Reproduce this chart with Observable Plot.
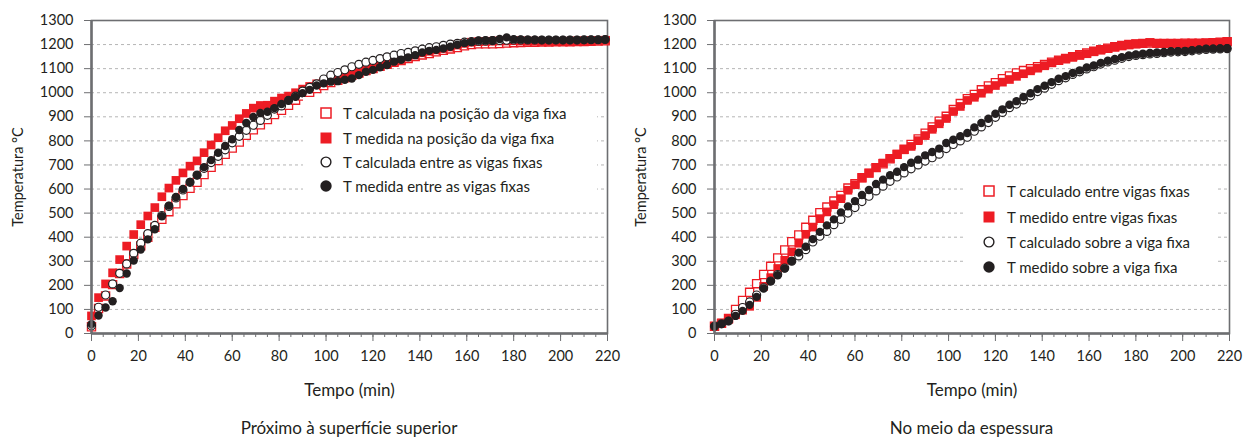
<!DOCTYPE html>
<html>
<head>
<meta charset="utf-8">
<script src="https://cdn.jsdelivr.net/npm/d3@7"></script>
<script src="https://cdn.jsdelivr.net/npm/@observablehq/plot@0.6"></script>
<style>
  body { margin: 0; background: #fff; font-family: Lato, "Open Sans", sans-serif; color: #231f20; }
  #wrap { display: flex; width: 1243px; }
  .panel { position: relative; }
  .caption { font-size: 17px; line-height: 20px; text-align: center; margin-top: 13px; color: #231f20; }
  .legend { position: absolute; background: #fff; }
  .legend .row { position: absolute; left: 0; height: 20px; display: flex; align-items: center; font-size: 15px; white-space: nowrap; }
  .legend svg { display: block; }
</style>
</head>
<body>
<div id="wrap"></div>
<script>
// ---- data ----
const time = [0,3,6,9,12,15,18,21,24,27,30,33,36,39,42,45,48,51,54,57,60,63,66,69,72,75,78,81,84,87,90,93,96,99,102,105,108,111,114,117,120,123,126,129,132,135,138,141,144,147,150,153,156,159,162,165,168,171,174,177,180,183,186,189,192,195,198,201,204,207,210,213,216,219];

// Panel 1: Próximo à superfície superior
const supCalcVigaFixa = [28,104,156,203,249,289,328,364,400,441,474,506,539,573,603,628,660,690,718,744,770,795,823,846,867,889,909,927,948,969,986,1002,1017,
  1030,1042,1052,1062,1072,1082,1092,1101,1110,1118,1126,1134,1142,1150,1157,1163,1170,1176,1182,1188,1195,1200,1203,1203,1203,1204,1206,1208,
  1209,1210,1210,1211,1211,1212,1212,1212,1213,1213,1214,1215,1216];
const supMedVigaFixa = [73,149,206,252,307,363,411,452,488,523,568,604,636,667,695,717,751,783,813,842,864,892,914,936,947,948,965,978,986,1000,1015,1026,1037,
  1045,1053,1060,1066,1073,1082,1092,1100,1110,1119,1130,1138,1148,1157,1166,1172,1178,1184,1190,1198,1205,1210,
  1212,1213,1214,1215,1215,1216,1215,1214,1214,1213,1213,1213,1213,1214,1214,1215,1216,1217,1218];
const supCalcEntre = [32,109,160,206,250,289,333,375,415,449,490,528,563,596,628,658,686,710,736,763,792,819,844,865,885,906,932,945,968,986,1007,1022,1037,
  1057,1073,1084,1095,1108,1118,1127,1134,1142,1149,1156,1163,1168,1174,1181,1187,1191,1197,1202,1205,1210,1212,
  1214,1215,1216,1217,1218,1219,1219,1219,1219,1219,1219,1219,1219,1219,1219,1220,1220,1220,1221];
const supMedEntre = [39,75,108,134,189,249,303,349,391,433,487,531,567,600,629,657,691,720,751,779,807,845,874,899,916,921,936,953,969,983,998,1012,1030,
  1039,1046,1048,1054,1059,1073,1087,1095,1106,1115,1129,1137,1147,1156,1167,1174,1178,1184,1191,1199,1206,1211,
  1217,1218,1218,1223,1230,1222,1221,1220,1220,1219,1219,1219,1219,1219,1219,1219,1220,1220,1221];

// Panel 2: No meio da espessura
const meioCalcEntre = [30,42,62,100,137,171,207,245,279,314,347,381,409,441,470,502,525,550,573,604,622,647,666,689,705,726,744,765,785,808,832,858,882,
  902,930,955,975,993,1012,1028,1042,1058,1070,1082,1092,1100,1108,
  1117,1127,1135,1142,1150,1158,1165,1172,1179,1185,1191,1196,1200,1203,1205,1206,
  1205,1205,1205,1205,1206,1206,1206,1207,1208,1210,1212];
const meioMedEntre = [30,44,59,78,97,113,150,196,232,270,304,339,375,412,442,477,505,535,560,595,618,646,666,689,708,727,745,763,777,801,822,848,871,
  893,922,943,968,981,998,1015,1030,1044,1055,1068,1079,1091,1102,1112,1124,1134,1140,1147,1155,1162,1170,1177,1183,1189,1195,1199,1203,1205,1209,
  1205,1204,1204,1204,1204,1205,1205,1206,1207,1209,1212];
const meioCalcSobre = [30,40,52,80,108,131,160,190,218,245,272,300,322,348,380,404,424,452,474,500,523,
  548,570,592,612,632,650,667,684,700,716,730,745,768,785,800,815,840,858,876,898,918,938,953,970,987,1005,1019,1035,1050,1062,
  1076,1087,1099,1108,1119,1128,1135,1143,1150,1155,1158,1161,1163,1166,1169,1170,1171,1174,1177,1180,1181,1182,1183];
const meioMedSobre = [30,40,52,73,94,119,152,187,217,242,270,301,336,360,392,422,449,474,503,528,550,575,596,621,639,657,672,691,709,722,740,754,768,
  791,805,819,833,856,874,892,913,931,950,965,982,998,1015,1029,1044,1058,1069,1082,1093,1105,1113,1124,1133,1140,1148,1155,1159,1162,1165,1167,1169,1172,1173,1174,1177,1180,1183,1183,1184,1185];

const xTicks = [0,20,40,60,80,100,120,140,160,180,200,220];
const xMinorTicks = [0,5,10,15,20,25,30,35,40,45,50,55,60,65,70,75,80,85,90,95,100,105,110,115,120,125,130,135,140,145,150,155,160,165,170,175,180,185,190,195,200,205,210,215,220];
const yTicks = [0,100,200,300,400,500,600,700,800,900,1000,1100,1200,1300];
const yGrid = [100,200,300,400,500,600,700,800,900,1000,1100,1200];

const legendLeft = ["T calculada na posição da viga fixa","T medida na posição da viga fixa","T calculada entre as vigas fixas","T medida entre as vigas fixas"];
const legendRight = ["T calculado entre vigas fixas","T medido entre vigas fixas","T calculado sobre a viga fixa","T medido sobre a viga fixa"];
const captions = ["Próximo à superfície superior","No meio da espessura"];

// ---- styles ----
const RED = "#ed1c24", BLACK = "#231f20", AXIS = "#6d6e71";
const styles = [
  {symbol: "square", r: 4.6, fill: "white", stroke: RED, strokeWidth: 1.3},
  {symbol: "square", r: 4.9, fill: RED, stroke: "none"},
  {symbol: "circle", r: 4.0, fill: "white", stroke: BLACK, strokeWidth: 1.2},
  {symbol: "circle", r: 4.2, fill: BLACK, stroke: "none"}
];

function rows(vals) { return time.map((t, i) => ({t, v: vals[i]})); }

function makePanel(seriesList, opts) {
  const marks = [
    Plot.gridY(yGrid, {stroke: "#b5b5b5", strokeOpacity: 1, strokeDasharray: "3,3", strokeWidth: 1}),
    Plot.frame({stroke: AXIS, strokeWidth: 1.6}),
    Plot.axisY({ticks: yTicks, tickSize: 7, tickPadding: 11, stroke: AXIS, fill: BLACK, tickFormat: d => String(d),
      label: "Temperatura °C", labelAnchor: "center", labelOffset: 79, labelArrow: "none"}),
    Plot.axisX({ticks: xMinorTicks, tickSize: 4, stroke: AXIS, tickFormat: () => "", label: null}),
    Plot.axisX({ticks: xTicks, tickSize: 8, tickPadding: 9, stroke: AXIS, fill: BLACK, tickFormat: d => String(d), label: null}),
    Plot.text(["Tempo (min)"], {frameAnchor: "bottom", dy: 62, fontSize: 17, fill: BLACK}),
    ...seriesList.map((vals, i) => Plot.dot(rows(vals), {x: "t", y: "v", ...styles[i]})),
    Plot.ruleX([0], {stroke: AXIS, strokeWidth: 2.5}),
    Plot.ruleY([0], {stroke: AXIS, strokeWidth: 2.5})
  ];
  return Plot.plot({
    width: opts.width, height: 405,
    marginLeft: opts.ml, marginRight: opts.mr, marginTop: 20, marginBottom: 72,
    x: {domain: [0, 220]},
    y: {domain: [0, 1300]},
    style: {fontFamily: "Lato, 'Open Sans', sans-serif", fontSize: "14.5px", color: BLACK, background: "white", overflow: "visible"},
    marks
  });
}

function legendMarker(i) {
  const ns = "http://www.w3.org/2000/svg";
  const svg = document.createElementNS(ns, "svg");
  svg.setAttribute("width", 12); svg.setAttribute("height", 12);
  let el;
  if (i === 0) { el = document.createElementNS(ns, "rect"); el.setAttribute("x", 1); el.setAttribute("y", 1); el.setAttribute("width", 10); el.setAttribute("height", 10); el.setAttribute("fill", "white"); el.setAttribute("stroke", RED); el.setAttribute("stroke-width", 1.5); }
  if (i === 1) { el = document.createElementNS(ns, "rect"); el.setAttribute("x", 0.5); el.setAttribute("y", 0.5); el.setAttribute("width", 11); el.setAttribute("height", 11); el.setAttribute("fill", RED); }
  if (i === 2) { el = document.createElementNS(ns, "circle"); el.setAttribute("cx", 6); el.setAttribute("cy", 6); el.setAttribute("r", 4.9); el.setAttribute("fill", "white"); el.setAttribute("stroke", BLACK); el.setAttribute("stroke-width", 1.4); }
  if (i === 3) { el = document.createElementNS(ns, "circle"); el.setAttribute("cx", 6); el.setAttribute("cy", 6); el.setAttribute("r", 5.7); el.setAttribute("fill", BLACK); }
  svg.appendChild(el);
  return svg;
}

function makeLegend(labels, box) {
  const lg = document.createElement("div");
  lg.className = "legend";
  Object.assign(lg.style, {left: box.left + "px", top: box.top + "px", width: box.w + "px", height: box.h + "px"});
  labels.forEach((lab, i) => {
    const r = document.createElement("div");
    r.className = "row";
    r.style.top = (box.rowY[i] - box.top - 10) + "px";
    r.style.left = (box.mx - box.left - 6) + "px";
    r.appendChild(legendMarker(i));
    const s = document.createElement("span");
    s.textContent = lab;
    s.style.marginLeft = (box.tx - box.mx - 6) + "px";
    r.appendChild(s);
    lg.appendChild(r);
  });
  return lg;
}

const wrap = document.getElementById("wrap");
const panels = [
  {series: [supCalcVigaFixa, supMedVigaFixa, supCalcEntre, supMedEntre], width: 622, ml: 91, mr: 15,
   legend: legendLeft, box: {left: 303, top: 97, w: 294, h: 102, mx: 326, tx: 343, rowY: [113, 137.5, 161.5, 185.5]}, caption: captions[0]},
  {series: [meioCalcEntre, meioMedEntre, meioCalcSobre, meioMedSobre], width: 621, ml: 92, mr: 14,
   legend: legendRight, box: {left: 344, top: 176, w: 252, h: 104, mx: 367, tx: 385, rowY: [191, 216.5, 242, 267]}, caption: captions[1]}
];
panels.forEach(p => {
  const div = document.createElement("div");
  div.className = "panel";
  div.style.width = p.width + "px";
  div.appendChild(makePanel(p.series, p));
  div.appendChild(makeLegend(p.legend, p.box));
  const cap = document.createElement("div");
  cap.className = "caption";
  cap.style.paddingLeft = p.ml + "px";
  cap.style.paddingRight = p.mr + "px";
  cap.textContent = p.caption;
  div.appendChild(cap);
  wrap.appendChild(div);
});
</script>
</body>
</html>
